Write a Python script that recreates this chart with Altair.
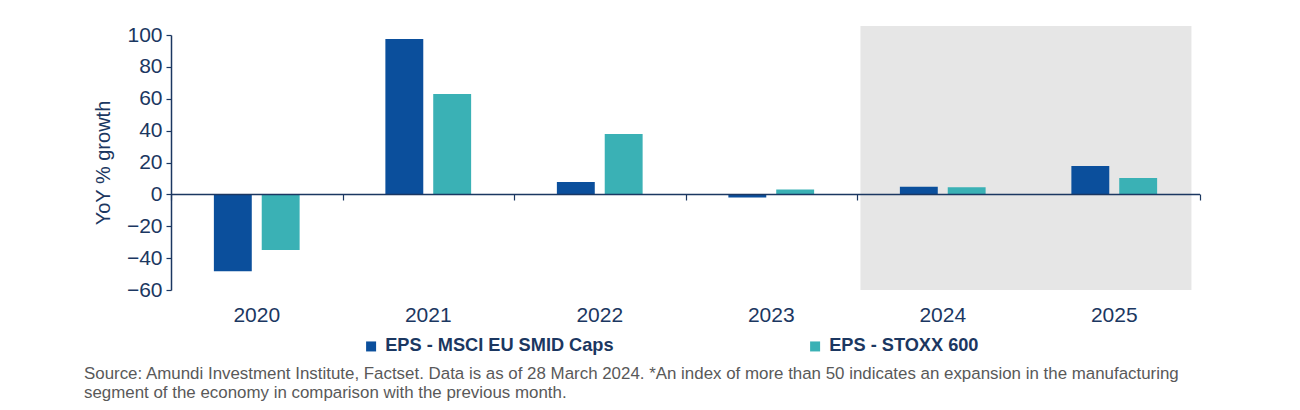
import altair as alt
import pandas as pd

years = ["2020", "2021", "2022", "2023", "2024", "2025"]
msci = [-48.2, 97.5, 7.8, -2.0, 4.8, 17.8]
stoxx = [-34.9, 63.0, 37.9, 3.0, 4.5, 10.3]
series_names = ["EPS - MSCI EU SMID Caps", "EPS - STOXX 600"]
colors = ["#0b4f9c", "#3ab1b5"]
y_ticks = [-60, -40, -20, 0, 20, 40, 60, 80, 100]
band_edges = [0, 1, 2, 3, 4, 5, 6]
shade_x = [4.02, 5.95]
shade_y = [-60, 105.6]
source_lines = [
    "Source: Amundi Investment Institute, Factset. Data is as of 28 March 2024. *An index of more than 50 indicates an expansion in the manufacturing",
    "segment of the economy in comparison with the previous month.",
]

rows = []
for i, yr in enumerate(years):
    rows.append({"year": yr, "series": series_names[0], "value": msci[i]})
    rows.append({"year": yr, "series": series_names[1], "value": stoxx[i]})
df = pd.DataFrame(rows)

NAVY = "#1b3761"
FONT = "Liberation Sans"
W, H = 1029, 255

yscale = alt.Scale(domain=[-60, 100], nice=False, zero=False)
qx = alt.Scale(domain=[0, 6], nice=False, zero=False)
YTITLE = "YoY % growth"

yaxis = alt.Axis(
    values=y_ticks, grid=False, domainColor=NAVY, domainWidth=1.5,
    tickColor=NAVY, tickSize=5, tickWidth=1.2, labelColor=NAVY,
    labelFontSize=21, labelFont=FONT, labelPadding=4,
    titleColor=NAVY, titleFontSize=20, titleFont=FONT, titleFontWeight="normal",
    titlePadding=13,
)

shade = alt.Chart(pd.DataFrame({"x0": [shade_x[0]], "x1": [shade_x[1]],
                                "y0": [shade_y[0]], "y1": [shade_y[1]]})).mark_rect(
    color="#e6e6e6").encode(
    x=alt.X("x0:Q", scale=qx, axis=None),
    x2="x1:Q",
    y=alt.Y("y0:Q", scale=yscale, title=YTITLE, axis=yaxis),
    y2="y1:Q",
)

bars = alt.Chart(df).mark_bar().encode(
    x=alt.X("year:N", sort=years,
            scale=alt.Scale(paddingInner=0, paddingOuter=0),
            axis=alt.Axis(title=None, labelAngle=0, domain=False, ticks=False,
                          labelPadding=14, labelFontSize=21, labelFont=FONT,
                          labelColor=NAVY, orient="bottom")),
    xOffset=alt.XOffset("series:N", sort=series_names,
                        scale=alt.Scale(paddingInner=0.208, paddingOuter=0.896)),
    y=alt.Y("value:Q", scale=yscale, title=YTITLE, axis=yaxis),
    color=alt.Color("series:N", sort=series_names,
                    scale=alt.Scale(domain=series_names, range=colors),
                    legend=alt.Legend(
                        title=None, orient="none", direction="horizontal",
                        legendX=191, legendY=302, symbolType="square",
                        symbolSize=100, symbolStrokeWidth=0, labelOffset=5,
                        labelFontSize=18.2, labelFont=FONT, labelFontWeight="bold",
                        labelColor=NAVY, columnPadding=192, labelLimit=600)),
)

zero = alt.Chart(pd.DataFrame({"x0": [band_edges[0]], "x1": [band_edges[-1]], "y": [0]})).mark_rule(
    color=NAVY, strokeWidth=1.5).encode(
    x=alt.X("x0:Q", scale=qx,
            axis=alt.Axis(orient="bottom", offset=-96, values=band_edges, labels=False,
                          domain=False, grid=False, ticks=True, tickSize=6,
                          tickColor=NAVY, tickWidth=1.2, title=None)),
    x2="x1:Q",
    y=alt.Y("y:Q", scale=yscale, title=YTITLE, axis=yaxis),
)

source = alt.Chart(pd.DataFrame({"t": [0]})).mark_text(
    align="left", baseline="alphabetic", font=FONT, fontSize=16.9,
    color="#595959", lineHeight=19).encode(
    x=alt.value(-87), y=alt.value(344), text=alt.value(source_lines))

chart = alt.layer(shade, bars, zero, source).resolve_scale(x="independent").properties(
    width=W, height=H,
    autosize=alt.AutoSizeParams(type="none"),
    padding={"left": 163, "top": 27, "right": 92, "bottom": 112},
).configure_view(stroke=None)

chart.save("out.html", embed_options={"renderer": "svg", "actions": False})
